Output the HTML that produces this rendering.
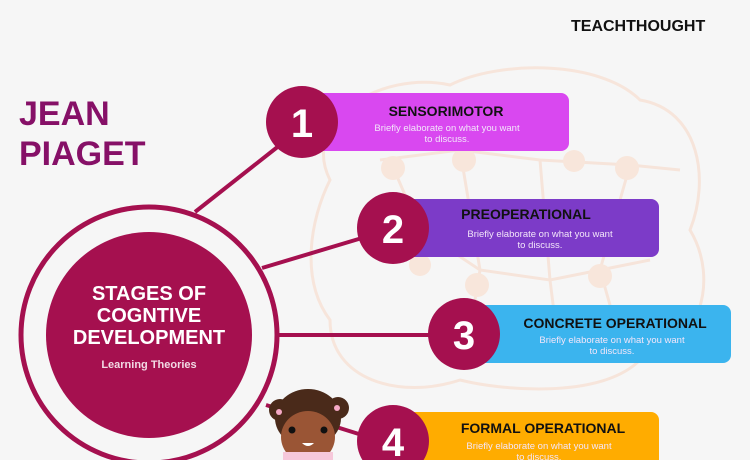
<!DOCTYPE html>
<html><head><meta charset="utf-8"><style>
html,body{margin:0;padding:0;background:#f6f6f6;}
svg{display:block;}
text{font-family:"Liberation Sans",sans-serif;font-weight:bold;}
</style></head><body>
<svg width="750" height="460" viewBox="0 0 750 460" xmlns="http://www.w3.org/2000/svg">
<rect width="750" height="460" fill="#f6f6f6"/>
<!-- faint brain -->
<g fill="none" stroke="#f7e3d8" stroke-width="3" opacity="0.9">
<path d="M330 180 C300 120 380 70 450 85 C500 60 600 60 640 100 C700 110 710 180 690 230 C720 280 700 350 640 360 C600 400 500 390 460 380 C400 400 330 380 330 320 C300 280 310 220 330 180Z"/>
<path d="M380 160 L460 150 L540 160 L630 165 L680 170"/>
<path d="M390 160 L420 230 L480 270 L550 280 L600 270 L650 260"/>
<path d="M460 150 L480 270 L470 330"/>
<path d="M540 160 L550 280 L560 360"/>
<path d="M630 165 L600 270 L620 340"/>
</g>
<g fill="#f8e6db">
<circle cx="393" cy="168" r="12"/><circle cx="464" cy="160" r="12"/><circle cx="574" cy="161" r="11"/><circle cx="627" cy="168" r="12"/>
<circle cx="420" cy="265" r="11"/><circle cx="477" cy="285" r="12"/><circle cx="600" cy="276" r="12"/>
</g>
<text x="571" y="31" font-size="16" fill="#111">TEACHTHOUGHT</text>
<text x="19" y="125" font-size="34" fill="#861067">JEAN</text>
<text x="19" y="165" font-size="34" fill="#861067">PIAGET</text>
<!-- connectors -->
<g stroke="#a5104f" stroke-width="4" fill="none">
<line x1="195" y1="212" x2="280" y2="145"/>
<line x1="262" y1="268" x2="362" y2="238"/>
<line x1="278" y1="335" x2="432" y2="335"/>
<line x1="266" y1="405" x2="362" y2="435"/>
</g>
<circle cx="149" cy="335" r="128" fill="none" stroke="#a5104f" stroke-width="5"/>
<circle cx="149" cy="335" r="103" fill="#a5104f"/>
<text x="149" y="300" font-size="20" fill="#fff" text-anchor="middle">STAGES OF</text>
<text x="149" y="322" font-size="20" fill="#fff" text-anchor="middle">COGNTIVE</text>
<text x="149" y="344" font-size="20" fill="#fff" text-anchor="middle">DEVELOPMENT</text>
<text x="149" y="368" font-size="11" fill="#f2d9e4" text-anchor="middle" font-weight="normal">Learning Theories</text>
<!-- boxes -->
<rect x="300" y="93" width="269" height="58" rx="8" fill="#d948f0"/>
<rect x="393" y="199" width="266" height="58" rx="8" fill="#7c3bc8"/>
<rect x="464" y="305" width="267" height="58" rx="8" fill="#3bb4ee"/>
<rect x="393" y="412" width="266" height="60" rx="8" fill="#ffac00"/>
<g fill="#a5104f">
<circle cx="302" cy="122" r="36"/><circle cx="393" cy="228" r="36"/><circle cx="464" cy="334" r="36"/><circle cx="393" cy="441" r="36"/>
</g>
<g fill="#fff" font-size="40" text-anchor="middle">
<text x="302" y="137">1</text><text x="393" y="243">2</text><text x="464" y="349">3</text><text x="393" y="456">4</text>
</g>
<g font-size="14" fill="#111" text-anchor="middle">
<text x="446" y="116">SENSORIMOTOR</text>
<text x="526" y="219">PREOPERATIONAL</text>
<text x="615" y="328">CONCRETE OPERATIONAL</text>
<text x="543" y="433">FORMAL OPERATIONAL</text>
</g>
<g font-size="9.5" fill="#f3e6fa" text-anchor="middle" font-weight="normal">
<text x="447" y="131" style="font-weight:normal">Briefly elaborate on what you want</text><text x="447" y="142" style="font-weight:normal">to discuss.</text>
<text x="540" y="237" style="font-weight:normal">Briefly elaborate on what you want</text><text x="540" y="248" style="font-weight:normal">to discuss.</text>
<text x="612" y="343" style="font-weight:normal">Briefly elaborate on what you want</text><text x="612" y="354" style="font-weight:normal">to discuss.</text>
<text x="539" y="449" style="font-weight:normal">Briefly elaborate on what you want</text><text x="539" y="460" style="font-weight:normal">to discuss.</text>
</g>
<!-- girl -->
<g>
<circle cx="280" cy="410" r="11" fill="#4a2a1a"/><circle cx="338" cy="408" r="11" fill="#4a2a1a"/>
<ellipse cx="308" cy="418" rx="33" ry="29" fill="#4a2a1a"/>
<ellipse cx="308" cy="437" rx="27" ry="26" fill="#9a5535"/>
<rect x="283" y="452" width="50" height="10" fill="#f6c8da"/>
<circle cx="292" cy="430" r="3.5" fill="#111"/><circle cx="324" cy="430" r="3.5" fill="#111"/>
<path d="M302 443 Q308 449 314 443Z" fill="#fff"/>
<circle cx="279" cy="412" r="3" fill="#f5a9c6"/><circle cx="337" cy="408" r="3" fill="#f5a9c6"/>
</g>
</svg>
</body></html>
